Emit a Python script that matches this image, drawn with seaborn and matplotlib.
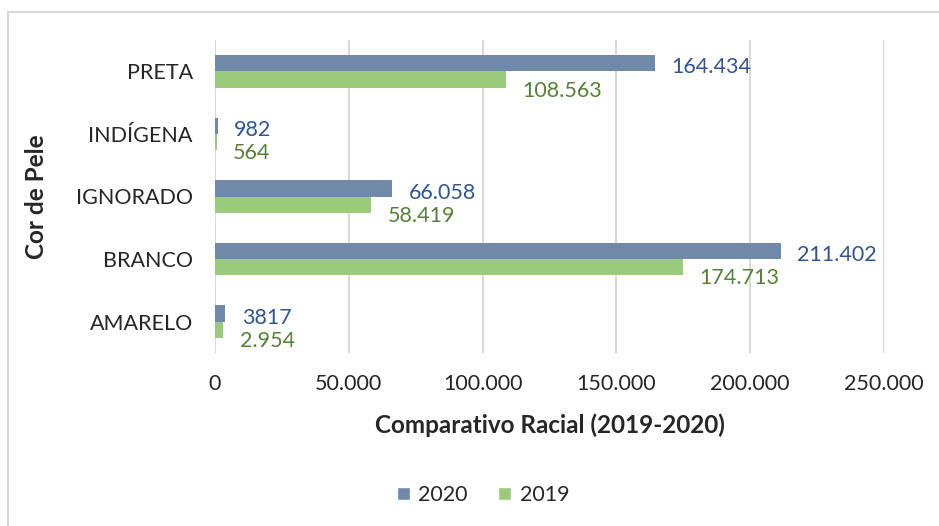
import matplotlib
matplotlib.use("Agg")
import matplotlib.pyplot as plt
import seaborn as sns
import pandas as pd
from matplotlib.patches import Rectangle, Patch

categories = ["PRETA", "INDÍGENA", "IGNORADO", "BRANCO", "AMARELO"]
values_2020 = [164434, 982, 66058, 211402, 3817]
values_2019 = [108563, 564, 58419, 174713, 2954]
labels_2020 = ["164.434", "982", "66.058", "211.402", "3817"]
labels_2019 = ["108.563", "564", "58.419", "174.713", "2.954"]
xticks = [0, 50000, 100000, 150000, 200000, 250000]
xtick_labels = ["0", "50.000", "100.000", "150.000", "200.000", "250.000"]
series = ["2020", "2019"]

sns.set_theme(style="white")
plt.rcParams['font.family'] = ['Lato', 'DejaVu Sans']

df = pd.DataFrame({
    "cat": categories * 2,
    "val": values_2020 + values_2019,
    "ano": [series[0]] * len(categories) + [series[1]] * len(categories),
})

c2020 = "#7189A9"
c2019 = "#9BCB7A"
lab2020 = "#2F5597"
lab2019 = "#548235"
fs = 15.5

fig = plt.figure(figsize=(9.39, 5.26), dpi=100)
ax = fig.add_axes([215/939, 1 - 353/526, (884 - 215)/939, (353 - 40)/526])

sns.barplot(data=df, x="val", y="cat", hue="ano", order=categories, hue_order=series,
            palette=[c2020, c2019], orient="h", width=0.52, gap=0, ax=ax,
            legend=False, saturation=1, linewidth=0)

ax.set_xlim(0, 250000)
ax.set_xticks(xticks)
ax.set_xticklabels(xtick_labels, fontsize=fs)
ax.tick_params(axis="y", labelsize=fs, length=0, pad=16)
ax.tick_params(axis="x", length=0, pad=15)
ax.grid(axis="x", color="#d9d9d9", linewidth=1.5)
ax.set_axisbelow(True)
for s in ax.spines.values():
    s.set_visible(False)

ax.set_xlabel("Comparativo Racial (2019-2020)", fontsize=17.5, fontweight="bold", labelpad=14)
ax.set_ylabel("Cor de Pele", fontsize=17.5, fontweight="bold", labelpad=20)

conts = ax.containers
ann20 = ax.bar_label(conts[0], labels=labels_2020, padding=12, color=lab2020, fontsize=fs)
ann19 = ax.bar_label(conts[1], labels=labels_2019, padding=12, color=lab2019, fontsize=fs)
for t in ann20:
    x0, y0 = t.xyann
    t.xyann = (x0, y0 - 3.0)
for t in ann19:
    x0, y0 = t.xyann
    t.xyann = (x0, y0 - 8.0)

handles = [Patch(facecolor=c2020, label=series[0]), Patch(facecolor=c2019, label=series[1])]
fig.legend(handles=handles, loc="center", bbox_to_anchor=(483/939, 1 - 495/526), ncol=2,
           frameon=False, fontsize=fs, handlelength=0.6, handleheight=0.6,
           handletextpad=0.4, columnspacing=1.4)

fig.patches.append(Rectangle((8/939, -0.1), 1.2, (526 - 12)/526 + 0.1, transform=fig.transFigure,
                             fill=False, edgecolor="#d9d9d9", linewidth=1.5))

fig.savefig("out.png", dpi=100)
